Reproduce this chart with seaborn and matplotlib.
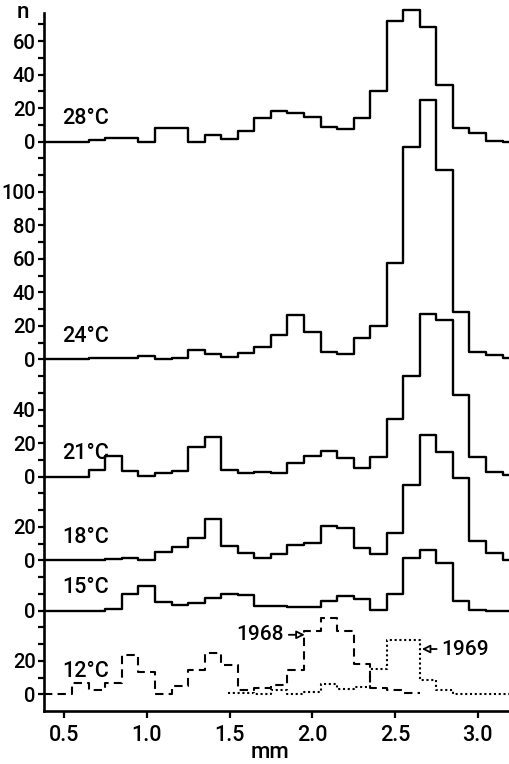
import numpy as np
import pandas as pd
import matplotlib
matplotlib.use("Agg")
import matplotlib.pyplot as plt
import seaborn as sns

# ---------------- data ----------------
bin_centres = [0.5, 0.6, 0.7, 0.8, 0.9, 1.0, 1.1, 1.2, 1.3, 1.4,
               1.5, 1.6, 1.7, 1.8, 1.9, 2.0, 2.1, 2.2, 2.3, 2.4,
               2.5, 2.6, 2.7, 2.8, 2.9, 3.0, 3.1, 3.2]

n_28 = [0, 0, 1, 2.2, 2.2, 0, 8.2, 8.2, 0, 4, 1.4, 6.2, 14, 18, 17, 14.5,
        8.5, 7.6, 14, 30.4, 71.8, 78.6, 68.2, 33.8, 8.2, 5, 0.2, 0]
n_24 = [0, 0, 0.6, 0.6, 0.6, 2, 0, 1, 5.4, 3, 1.4, 3.8, 7.4, 14.3, 26.3, 16.3,
        4.4, 3.4, 12.4, 19.7, 57.5, 126.7, 154.6, 112.8, 28.2, 4.4, 2.4, 0.6]
n_21 = [0, 0, 3.6, 12.5, 3.2, 0.6, 2, 3.2, 17.5, 23.5, 3.6, 2, 2.6, 2, 8, 12,
        15.1, 11, 5, 11.5, 34.4, 60.3, 97.1, 93.6, 48.4, 11.5, 2.6, 1.2]
n_18 = [0, 0, 0, 1, 1.6, 0, 5, 8, 13.5, 24.9, 8.4, 4.6, 1.3, 4, 9, 10.3,
        20.3, 19.5, 7.6, 4, 16, 44.8, 74.6, 64.9, 49.4, 11.3, 4.4, 0.4]
n_15 = [0, 0, 0, 1, 10, 14.9, 5, 3, 4.6, 7.6, 10.1, 9.2, 2.6, 2.4, 2.2, 2.2,
        5.6, 8.6, 6.6, 0.2, 9.6, 31.5, 36.4, 28.1, 5.6, 0.2, 0, 0]

centres_1968 = [0.5, 0.6, 0.7, 0.8, 0.9, 1.0, 1.1, 1.2, 1.3, 1.4, 1.5,
                1.6, 1.7, 1.8, 1.9, 2.0, 2.1, 2.2, 2.3, 2.4, 2.5, 2.6]
n_12_1968 = [0, 6.9, 2.4, 7, 23.5, 13.3, 0, 4.8, 14.7, 24.6, 17.3,
             2.8, 4, 5.4, 14.7, 37.8, 45.8, 37.6, 18.3, 3.8, 2.4, 0.8]
centres_1969 = [1.5, 1.6, 1.7, 1.8, 1.9, 2.0, 2.1, 2.2, 2.3, 2.4, 2.5,
                2.6, 2.7, 2.8, 2.9, 3.0, 3.1, 3.2]
n_12_1969 = [0.8, 0.8, 0.4, 2.8, 0.2, 1.4, 6.4, 3.4, 4.4, 15.3, 32.6,
             32.6, 8.4, 2.4, 0, 0, 0, 0]

temperature_labels = ["28°C", "24°C", "21°C", "18°C", "15°C", "12°C"]
axis_labels = {
    "28°C": [0, 20, 40, 60],
    "24°C": [0, 20, 40, 60, 80, 100],
    "21°C": [0, 20, 40],
    "18°C": [0, 20],
    "15°C": [0],
    "12°C": [0, 20],
}
x_tick_values = [0.5, 1.0, 1.5, 2.0, 2.5, 3.0]

# ---------------- layout ----------------
baseline = {"28°C": 340, "24°C": 210, "21°C": 140, "18°C": 90, "15°C": 60, "12°C": 10}
XMIN, XMAX = 0.379, 3.195
YMIN, YMAX = 0, 424.5
SPINE_TOP = 416.7

sns.set_theme(style="ticks")
plt.rcParams["font.family"] = ["Roboto", "DejaVu Sans"]
plt.rcParams["font.weight"] = "medium"
plt.rcParams["axes.edgecolor"] = "black"
plt.rcParams["xtick.color"] = "black"
plt.rcParams["ytick.color"] = "black"
plt.rcParams["text.color"] = "black"

fig = plt.figure(figsize=(5.1, 7.64), dpi=100)
fig.patch.set_facecolor("white")
ax = fig.add_axes([44 / 510, 1 - 711 / 764, 466 / 510, 711 / 764])
ax.set_facecolor("white")


def step_frame(centres, values, offset, x_start, x_end):
    xs = [x_start] + [c + 0.05 for c in centres[:-1]] + [x_end]
    ys = [v + offset for v in values] + [values[-1] + offset]
    return pd.DataFrame({"x": xs, "y": ys})


series = {"28°C": n_28, "24°C": n_24, "21°C": n_21, "18°C": n_18, "15°C": n_15}
for name, vals in series.items():
    df = step_frame(bin_centres, vals, baseline[name], XMIN, 3.25)
    sns.lineplot(data=df, x="x", y="y", ax=ax, color="black", linewidth=1.7,
                 drawstyle="steps-post", estimator=None, sort=False, legend=False)

df68 = step_frame(centres_1968, n_12_1968, baseline["12°C"], XMIN, 2.65)
sns.lineplot(data=df68, x="x", y="y", ax=ax, color="black", linewidth=1.5,
             drawstyle="steps-post", estimator=None, sort=False, legend=False,
             linestyle=(0, (4, 2.5)))
df69 = step_frame(centres_1969, n_12_1969, baseline["12°C"], 1.49, 3.25)
sns.lineplot(data=df69, x="x", y="y", ax=ax, color="black", linewidth=1.5,
             drawstyle="steps-post", estimator=None, sort=False, legend=False,
             linestyle=(0, (1, 1.3)))

# temperature labels
for name in temperature_labels:
    ax.text(0.488, baseline[name] + 13.5, name, ha="left", va="center",
            fontsize=15.5, fontweight="medium")

# year annotations
arrow = dict(arrowstyle="-|>", fc="white", ec="black", lw=1.3,
             mutation_scale=12, shrinkA=1, shrinkB=0)
ax.annotate("1968", xy=(1.955, 45.5), xytext=(1.83, 45.5), ha="right",
            va="center", fontsize=15, fontweight="medium", arrowprops=arrow)
ax.annotate("1969", xy=(2.662, 37.0), xytext=(2.78, 37.0), ha="left",
            va="center", fontsize=15, fontweight="medium", arrowprops=arrow)

# axes
ax.set_xlim(XMIN, XMAX)
ax.set_ylim(YMIN, YMAX)
ax.set_xticks(x_tick_values)
ax.set_xticklabels([f"{v:.1f}" for v in x_tick_values])

yticks = list(range(10, 420, 10))
ylabels = {}
for name, labs in axis_labels.items():
    for v in labs:
        ylabels[baseline[name] + v] = str(v)
ax.set_yticks(yticks)
ax.set_yticklabels([ylabels.get(t, "") for t in yticks])

ax.tick_params(axis="y", direction="out", length=4.5, width=1.6, pad=1.5,
               labelsize=14.5)
ax.tick_params(axis="x", direction="out", length=5, width=1.6, pad=5,
               labelsize=15.5)
ax.set_xlabel("")
ax.set_ylabel("")
sns.despine(ax=ax)
for s in ("left", "bottom"):
    ax.spines[s].set_linewidth(1.9)
    ax.spines[s].set_color("black")
ax.spines["left"].set_bounds(YMIN, SPINE_TOP)

fig.text(23 / 510, 1 - 13 / 764, "n", ha="center", va="center", fontsize=16,
         fontweight="medium")
fig.text(270 / 510, 1 - 752 / 764, "mm", ha="center", va="center", fontsize=16,
         fontweight="medium")

fig.savefig("out.png", dpi=100, facecolor="white")
